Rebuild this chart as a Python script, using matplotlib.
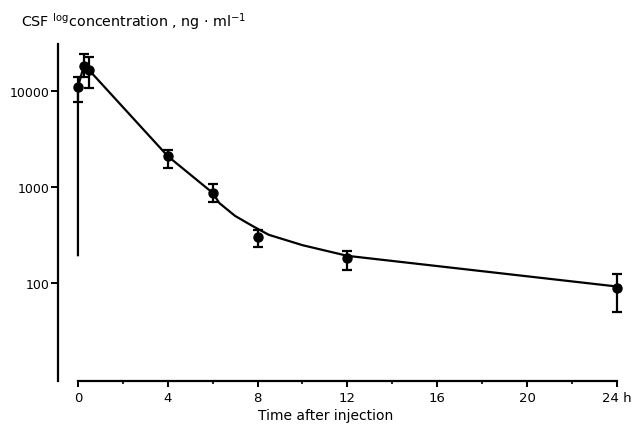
import numpy as np
import matplotlib
matplotlib.use("Agg")
import matplotlib.pyplot as plt
from matplotlib.ticker import FixedLocator, NullLocator, NullFormatter

# measured points (mean and error bar ends)
time_h = [0, 0.25, 0.5, 4, 6, 8, 12, 24]
conc = [11000, 18200, 16500, 2100, 866, 301, 182, 89]
err_hi = [14000, 24300, 22600, 2430, 1075, 357, 215, 124]
err_lo = [7700, 14000, 10700, 1580, 700, 237, 136, 50]

# hand drawn curve
curve_t = [0, 0, 0.25, 0.5, 4, 6, 6.3, 7, 7.8, 8.5, 10, 12, 24]
curve_c = [195, 11000, 18000, 16500, 2100, 870, 680, 500, 390, 318, 248, 192, 92]

xticks = [0, 4, 8, 12, 16, 20, 24]
xticklabels = ["0", "4", "8", "12", "16", "20", "24 h"]
yticks = [100, 1000, 10000]
yticklabels = ["100", "1000", "10000"]

fig = plt.figure(figsize=(6.42, 4.27), dpi=100)
ax = fig.add_axes([0.0903, 0.1054, 0.881, 0.789])

ax.plot(curve_t, curve_c, color="black", lw=1.6, zorder=2)

conc = np.array(conc)
yerr = [conc - np.array(err_lo), np.array(err_hi) - conc]
ax.errorbar(time_h, conc, yerr=yerr, fmt="o", color="black", ms=6.5,
            elinewidth=1.6, capsize=3.5, capthick=1.6, zorder=3)

ax.set_yscale("log")
ax.set_xlim(-0.89, 24.3)
ax.set_ylim(9.53, 30900)

for s in ["top", "right"]:
    ax.spines[s].set_visible(False)
ax.spines["left"].set_linewidth(1.6)
ax.spines["bottom"].set_linewidth(1.6)
ax.spines["bottom"].set_bounds(0, 24)

ax.yaxis.set_major_locator(FixedLocator(yticks))
ax.yaxis.set_minor_locator(NullLocator())
ax.yaxis.set_minor_formatter(NullFormatter())
ax.set_yticklabels(yticklabels)
ax.set_xticks(xticks)
ax.set_xticklabels(xticklabels)
ax.set_xticks([2, 6, 10, 14, 18, 22], minor=True)

ax.tick_params(axis="y", direction="out", length=5, width=1.4, labelsize=9, pad=1)
ax.tick_params(axis="x", which="major", direction="out", length=4, width=1.4, labelsize=9.5, pad=3)
ax.tick_params(axis="x", which="minor", direction="out", length=2.5, width=1.2)

fig.text(326 / 642, 1 - 416 / 427, "Time after injection", ha="center", va="center", fontsize=10)
fig.text(21 / 642, 1 - 22 / 427, r"CSF $^{\mathrm{log}}$concentration , ng $\cdot$ ml$^{-1}$",
         ha="left", va="center", fontsize=10.3)

fig.savefig("out.png", dpi=100)
